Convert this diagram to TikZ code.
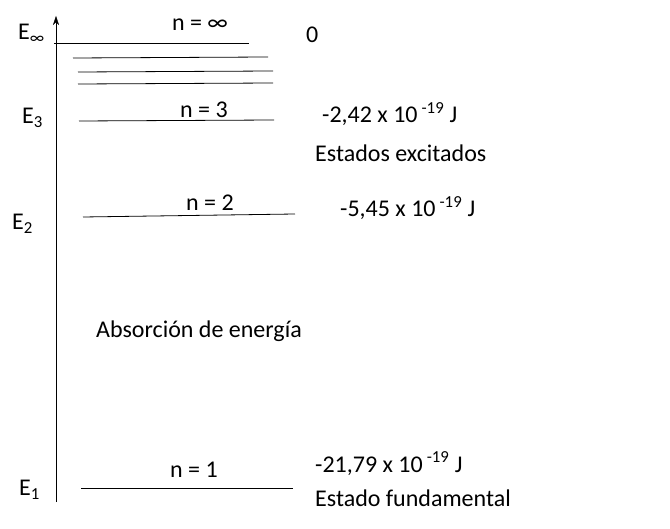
\documentclass[tikz,border=0pt]{standalone}
\usepackage{fontspec}
\setmainfont{Carlito}
\usetikzlibrary{arrows.meta}

\begin{document}
\begin{tikzpicture}[x=1pt,y=-1pt]

        \tikzstyle{level}=[line width=0.8pt]
        \tikzstyle{lbl}=[inner sep=0pt,anchor=base west,font=\fontsize{24}{28}\selectfont]
        \tikzstyle{nlbl}=[inner sep=0pt,anchor=base,font=\fontsize{24}{28}\selectfont]
        \newcommand{\expo}{\,\textsuperscript{-19}}

        \useasboundingbox (0,0) rectangle (670,529);

        %% Energy axis
        \coordinate (axbot) at (56,502);
        \coordinate (axtop) at (56,16);
        \draw[-{Stealth[length=9pt,width=6pt]}] (axbot) -- (axtop);

        %% Levels
        \coordinate (linf1) at (54,43);   \coordinate (linf2) at (249,43);
        \coordinate (la1) at (73,58);     \coordinate (la2) at (268,57);
        \coordinate (lb1) at (78,72);     \coordinate (lb2) at (273,71);
        \coordinate (lc1) at (78,84);     \coordinate (lc2) at (273,83);
        \coordinate (l31) at (79,121);    \coordinate (l32) at (274,120);
        \coordinate (l21) at (83,217);    \coordinate (l22) at (295,214);
        \coordinate (l11) at (81,488);    \coordinate (l12) at (293,488);
        \draw[level] (linf1) -- (linf2);
        \draw[level] (la1) -- (la2);
        \draw[level] (lb1) -- (lb2);
        \draw[level] (lc1) -- (lc2);
        \draw[level] (l31) -- (l32);
        \draw[level] (l21) -- (l22);
        \draw[level] (l11) -- (l12);

        %% Energy names
        \node[lbl] (Einf) at (18,40) {E\textsubscript{∞}};
        \node[lbl] (E3) at (22,124) {E\textsubscript{3}};
        \node[lbl] (E2) at (12,230) {E\textsubscript{2}};
        \node[lbl] (E1) at (19,496) {E\textsubscript{1}};

        %% Quantum numbers
        \node[nlbl] (ninf) at (200,31) {n = ∞};
        \node[nlbl] (n3) at (204,118) {n = 3};
        \node[nlbl] (n2) at (210,211) {n = 2};
        \node[nlbl] (n1) at (194,478) {n = 1};

        %% Energy values
        \node[lbl] (vinf) at (306,43) {0};
        \node[lbl] (v3) at (322,123) {-2,42 x 10\expo{} J};
        \node[lbl] (v2) at (340,217) {-5,45 x 10\expo{} J};
        \node[lbl] (v1) at (315,472) {-21,79 x 10\expo{} J};

        %% Descriptions
        \node[lbl] (exc) at (315,162) {Estados excitados};
        \node[lbl] (abs) at (96,338) {Absorción de energía};
        \node[lbl] (fund) at (315,507) {Estado fundamental};

\end{tikzpicture}
\end{document}
